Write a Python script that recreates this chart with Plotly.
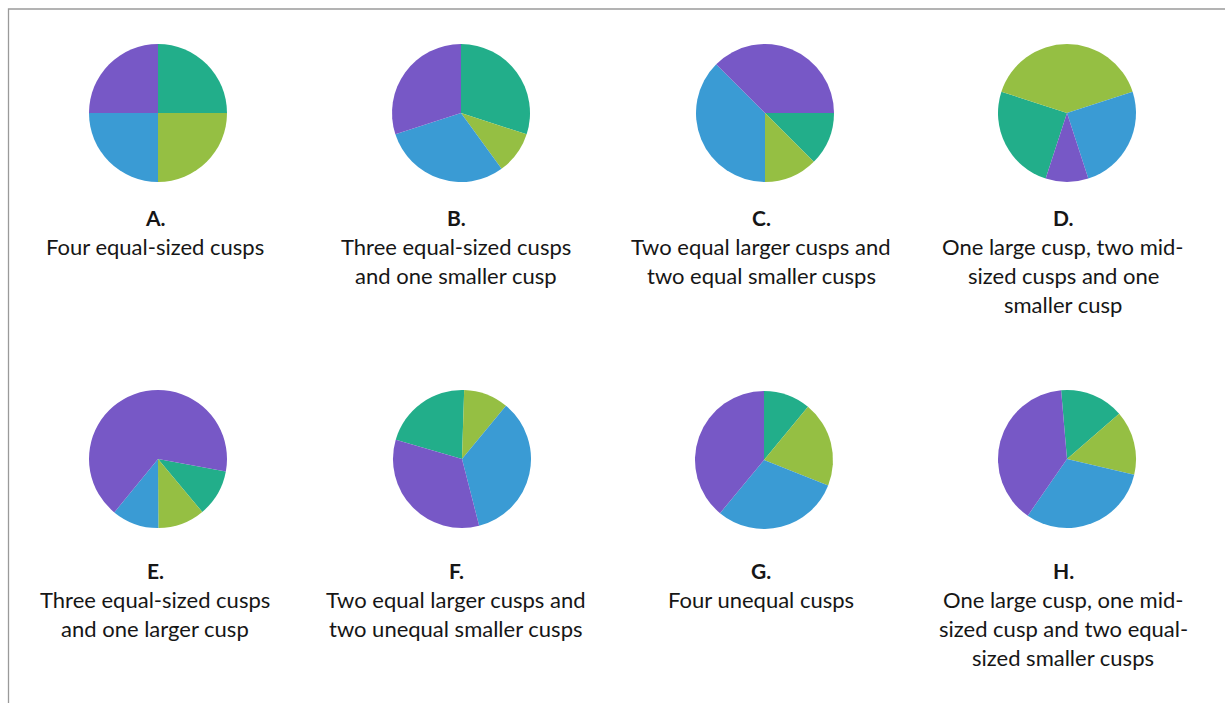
import plotly.graph_objects as go

# ---- data ----
panel_letters = ["A.", "B.", "C.", "D.", "E.", "F.", "G.", "H."]
panel_captions = [
    ["Four equal-sized cusps"],
    ["Three equal-sized cusps", "and one smaller cusp"],
    ["Two equal larger cusps and", "two equal smaller cusps"],
    ["One large cusp, two mid-", "sized cusps and one", "smaller cusp"],
    ["Three equal-sized cusps", "and one larger cusp"],
    ["Two equal larger cusps and", "two unequal smaller cusps"],
    ["Four unequal cusps"],
    ["One large cusp, one mid-", "sized cusp and two equal-", "sized smaller cusps"],
]
cusp_names = ["Cusp 1", "Cusp 2", "Cusp 3", "Cusp 4"]
green_share = [25, 30, 12.5, 25, 11, 21, 11, 15]
lime_share = [25, 10, 12.5, 40, 11, 10.5, 20, 15]
blue_share = [25, 30, 37.5, 25, 11, 35, 30, 31]
purple_share = [25, 30, 37.5, 10, 67, 33.5, 39, 39]
start_angle = [0, 0, 90, 198, 100.5, -73.8, 0, -4.9]

# ---- layout / style ----
W, H = 1225, 703
colors = ["#22ae8a", "#95bf43", "#3a9bd4", "#7758c6"]
pie_cx = [158, 461, 765, 1067, 158, 462, 764, 1067]
pie_cy = [113, 113, 113, 113, 459, 459, 460, 459]
pie_d = 138
text_cx = [155, 456, 761, 1063, 155, 456, 761, 1063]
label_y = [217, 217, 217, 217, 570, 570, 570, 570]
line_gap = 29
first_line_offset = 29
text_font = dict(family="Lato", size=22, color="#161616")
letter_font = dict(family="Lato", size=21, color="#161616")

fig = go.Figure()
annotations = []
for i in range(8):
    cx, cy = pie_cx[i], pie_cy[i]
    r = pie_d / 2
    fig.add_trace(go.Pie(
        labels=cusp_names,
        values=[green_share[i], lime_share[i], blue_share[i], purple_share[i]],
        sort=False,
        direction="clockwise",
        rotation=start_angle[i],
        marker=dict(colors=colors, line=dict(width=0)),
        textinfo="none",
        hoverinfo="label+percent",
        showlegend=False,
        domain=dict(x=[(cx - r) / W, (cx + r) / W],
                    y=[1 - (cy + r) / H, 1 - (cy - r) / H]),
    ))
    annotations.append(dict(
        text="<b>" + panel_letters[i] + "</b>",
        x=text_cx[i] / W, y=1 - label_y[i] / H,
        xref="paper", yref="paper", xanchor="center", yanchor="middle",
        showarrow=False, font=letter_font,
    ))
    for k, line in enumerate(panel_captions[i]):
        yy = label_y[i] + first_line_offset + k * line_gap
        annotations.append(dict(
            text=line,
            x=text_cx[i] / W, y=1 - yy / H,
            xref="paper", yref="paper", xanchor="center", yanchor="middle",
            showarrow=False, font=text_font,
        ))

fig.update_layout(
    width=W, height=H,
    margin=dict(l=0, r=0, t=0, b=0),
    paper_bgcolor="white", plot_bgcolor="white",
    annotations=annotations,
    shapes=[dict(type="rect", xref="paper", yref="paper",
                 x0=8.5 / W, x1=1.02, y0=-0.02, y1=1 - 9 / H,
                 line=dict(color="#9a9a9a", width=1.3), fillcolor="rgba(0,0,0,0)")],
)

fig.write_html("out.html")
